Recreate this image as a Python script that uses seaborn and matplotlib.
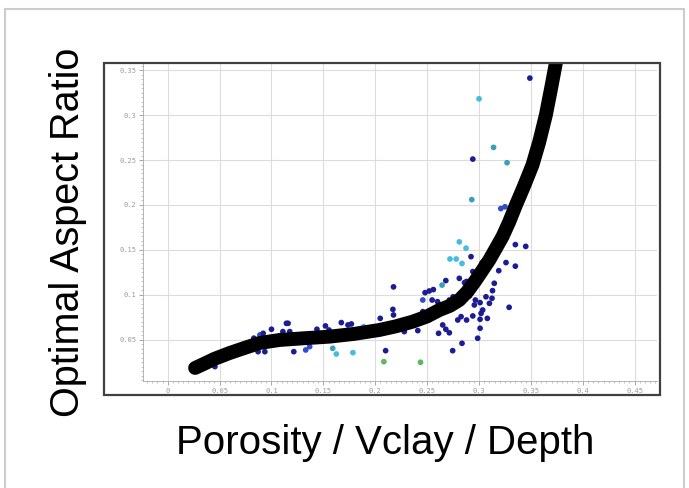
import numpy as np
import pandas as pd
import matplotlib
matplotlib.use("Agg")
import matplotlib.pyplot as plt
from matplotlib.patches import Rectangle
from matplotlib.lines import Line2D
from matplotlib.ticker import MultipleLocator, FixedLocator
import seaborn as sns

# ---------------- data ----------------
pt_x = [0.349, 0.300, 0.314, 0.294, 0.327, 0.293, 0.321, 0.325, 0.281, 0.2875,
        0.335, 0.345, 0.272, 0.278, 0.2836, 0.2923, 0.303, 0.326, 0.335, 0.319,
        0.294, 0.297, 0.288, 0.287, 0.3147, 0.313, 0.2907, 0.3067, 0.2965, 0.301,
        0.3125, 0.310, 0.329, 0.2176, 0.2644, 0.268, 0.281, 0.248, 0.252, 0.256,
        0.2458, 0.2548, 0.260, 0.2714, 0.275, 0.286, 0.217, 0.2176, 0.2458, 0.2827,
        0.2795, 0.288, 0.265, 0.268, 0.2714, 0.261, 0.228, 0.241, 0.210, 0.2746,
        0.2836, 0.2083, 0.2436, 0.2955, 0.3035, 0.302, 0.308, 0.301, 0.294, 0.301,
        0.2987, 0.0888, 0.092, 0.100, 0.0871, 0.0936, 0.088, 0.1144, 0.111, 0.0455,
        0.116, 0.1176, 0.1215, 0.133, 0.1368, 0.1438, 0.152, 0.1554, 0.1673, 0.1737,
        0.177, 0.1888, 0.159, 0.1625, 0.1785, 0.2048, 0.083, 0.097]
pt_y = [0.341, 0.318, 0.264, 0.251, 0.247, 0.206, 0.196, 0.198, 0.159, 0.152,
        0.156, 0.154, 0.140, 0.140, 0.135, 0.1426, 0.136, 0.136, 0.132, 0.127,
        0.126, 0.1233, 0.115, 0.109, 0.113, 0.1048, 0.099, 0.098, 0.0944, 0.0915,
        0.0963, 0.0907, 0.0863, 0.109, 0.111, 0.116, 0.1185, 0.1026, 0.1044, 0.106,
        0.0944, 0.0944, 0.0926, 0.0944, 0.098, 0.1137, 0.084, 0.0778, 0.0815, 0.0759,
        0.0722, 0.0722, 0.0667, 0.0619, 0.058, 0.0574, 0.0593, 0.0604, 0.0381, 0.0381,
        0.0463, 0.0259, 0.0252, 0.0889, 0.0833, 0.0796, 0.074, 0.073, 0.0767, 0.063,
        0.0519, 0.0556, 0.0574, 0.0619, 0.037, 0.037, 0.0463, 0.0685, 0.0593, 0.0204,
        0.0685, 0.0593, 0.037, 0.0389, 0.0426, 0.0619, 0.0656, 0.0611, 0.0693, 0.0667,
        0.0678, 0.0648, 0.0407, 0.0344, 0.0359, 0.074, 0.052, 0.0505]
pt_group = ["navy", "cyan", "teal", "navy", "teal", "teal", "blue", "blue", "cyan", "cyan",
            "navy", "navy", "cyan", "cyan", "cyan", "navy", "navy", "navy", "navy", "navy",
            "navy", "navy", "navy", "navy", "navy", "navy", "navy", "navy", "navy", "navy",
            "navy", "navy", "navy", "navy", "teal", "navy", "navy", "navy", "navy", "navy",
            "blue", "navy", "navy", "navy", "navy", "navy", "navy", "navy", "navy", "navy",
            "navy", "navy", "navy", "navy", "navy", "navy", "navy", "navy", "navy", "navy",
            "navy", "green", "green", "navy", "navy", "navy", "navy", "navy", "navy", "navy",
            "navy", "blue", "navy", "navy", "navy", "navy", "navy", "navy", "navy", "navy",
            "navy", "navy", "navy", "blue", "blue", "navy", "navy", "navy", "navy", "navy",
            "navy", "cyan", "teal", "cyan", "cyan", "navy", "navy", "navy"]

curve_x = [0.0264, 0.035, 0.045, 0.0599, 0.075, 0.0888, 0.108, 0.130, 0.156, 0.180,
           0.204, 0.220, 0.2359, 0.250, 0.2618, 0.272, 0.281, 0.289, 0.297, 0.303,
           0.3099, 0.3163, 0.3227, 0.329, 0.3356, 0.343, 0.3515, 0.358, 0.3644, 0.369,
           0.374]
curve_y = [0.0189, 0.0235, 0.029, 0.0356, 0.0415, 0.0467, 0.0500, 0.0518, 0.0537, 0.0568,
           0.0611, 0.0652, 0.0703, 0.0762, 0.0833, 0.0880, 0.0944, 0.1040, 0.1167, 0.1270,
           0.1389, 0.1519, 0.1650, 0.1810, 0.2000, 0.2200, 0.2444, 0.2700, 0.3000, 0.3270,
           0.3574]

x_ticks = [0, 0.05, 0.1, 0.15, 0.2, 0.25, 0.3, 0.35, 0.4, 0.45]
x_tick_labels = ["0", "0.05", "0.1", "0.15", "0.2", "0.25", "0.3", "0.35", "0.4", "0.45"]
y_ticks = [0.05, 0.1, 0.15, 0.2, 0.25, 0.3, 0.35]
y_tick_labels = ["0.05", "0.1", "0.15", "0.2", "0.25", "0.3", "0.35"]

palette = {"navy": "#1c1c94", "blue": "#2f4fc8", "cyan": "#45bde0",
           "teal": "#3a9fb8", "green": "#5cb860"}

# ---------------- figure ----------------
W, H = 689, 488
fig = plt.figure(figsize=(W / 100, H / 100), dpi=100)
sns.set_style("white")
plt.rcParams["font.family"] = ["Liberation Sans", "DejaVu Sans"]

def fx(px):
    return px / W

def fy(py):
    return 1 - py / H

ax = fig.add_axes([fx(143), fy(381), fx(657) - fx(143), fy(63) - fy(381)])

df = pd.DataFrame({"x": pt_x, "y": pt_y, "g": pt_group})
sns.scatterplot(data=df, x="x", y="y", hue="g", palette=palette, s=17,
                edgecolor="none", legend=False, ax=ax, zorder=3)
sns.lineplot(x=curve_x, y=curve_y, color="black", linewidth=10, sort=False,
             ax=ax, zorder=4, solid_capstyle="round", solid_joinstyle="round")

ax.set_xlim(-0.0238, 0.4715)
ax.set_ylim(0.0044, 0.3578)
ax.xaxis.set_major_locator(FixedLocator(x_ticks))
ax.yaxis.set_major_locator(FixedLocator(y_ticks))
ax.set_xticklabels(x_tick_labels)
ax.set_yticklabels(y_tick_labels)
ax.xaxis.set_minor_locator(MultipleLocator(0.005))
ax.yaxis.set_minor_locator(MultipleLocator(0.005))
ax.grid(True, which="major", color="#dcdcdc", linewidth=0.8)
ax.set_axisbelow(True)
ax.tick_params(axis="both", which="major", direction="out", length=3, width=0.6,
               color="#999999", labelsize=5, labelcolor="#9a9a9a", pad=2,
               bottom=True, left=True)
ax.tick_params(axis="both", which="minor", direction="out", length=1.5, width=0.5,
               color="#aaaaaa", bottom=True, left=True)
for lab in ax.get_xticklabels() + ax.get_yticklabels():
    lab.set_family("DejaVu Sans Mono")
ax.set_xlabel("")
ax.set_ylabel("")
for side in ["top", "right"]:
    ax.spines[side].set_visible(False)
for side in ["left", "bottom"]:
    ax.spines[side].set_color("#aaaaaa")
    ax.spines[side].set_linewidth(0.6)

# dark frame enclosing the plot and tick labels
fig.patches.append(Rectangle((fx(104), fy(395)), fx(660) - fx(104), fy(63) - fy(395),
                             transform=fig.transFigure, fill=False,
                             edgecolor="#404040", linewidth=1.6, zorder=10))
# light outer border
fig.lines.append(Line2D([fx(5), fx(5)], [0, fy(9)], transform=fig.transFigure,
                        color="#cccccc", linewidth=1.5))
fig.lines.append(Line2D([fx(5), fx(684)], [fy(9), fy(9)], transform=fig.transFigure,
                        color="#cccccc", linewidth=1.5))
fig.lines.append(Line2D([fx(684), fx(684)], [fy(9), 0], transform=fig.transFigure,
                        color="#cccccc", linewidth=1.5))

fig.text(fx(68), fy(232), "Optimal Aspect Ratio", rotation=90, ha="center",
         va="center", fontsize=28.5, color="black")
fig.text(fx(385), fy(443), "Porosity / Vclay / Depth", ha="center", va="center",
         fontsize=29, color="black")

fig.savefig("out.png", dpi=100)
